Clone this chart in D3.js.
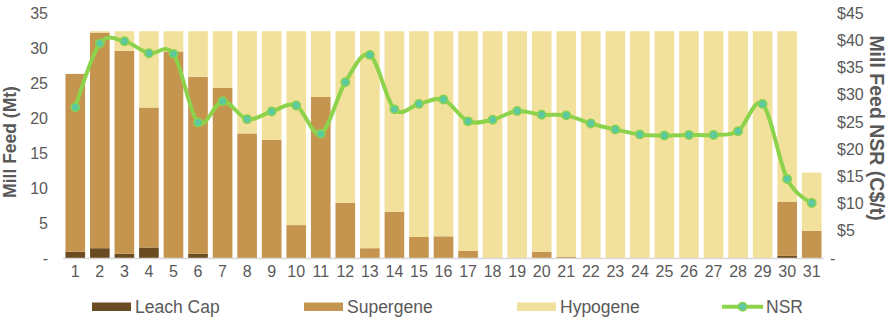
<!DOCTYPE html>
<html>
<head>
<meta charset="utf-8">
<script src="https://cdn.jsdelivr.net/npm/d3@7"></script>
<style>
  html, body { margin: 0; padding: 0; background: #fff; }
  svg { display: block; font-family: "Liberation Sans", Arial, sans-serif; }
</style>
</head>
<body>
<svg id="chart" width="889" height="320"></svg>
<script>
// Mill feed by period (Mt), split by ore type, with NSR on the secondary axis
const periods = d3.range(1, 32).map(String);
const leachCap = [0.9, 1.4, 0.6, 1.5, 0, 0.6, 0, 0, 0, 0, 0, 0, 0, 0, 0, 0, 0, 0, 0, 0, 0, 0, 0, 0, 0, 0, 0, 0, 0, 0.3, 0];
const supergene = [25.4, 30.8, 29.0, 20.0, 29.5, 25.3, 24.3, 17.8, 16.9, 4.7, 23.0, 7.9, 1.4, 6.6, 3.0, 3.1, 1.0, 0, 0, 0.9, 0.2, 0, 0, 0, 0, 0, 0, 0, 0, 7.7, 3.9];
const hypogene = [0, 0.2, 2.8, 10.9, 2.9, 6.5, 8.1, 14.6, 15.5, 27.7, 9.4, 24.5, 31.0, 25.8, 29.4, 29.3, 31.4, 32.4, 32.4, 31.5, 32.2, 32.4, 32.4, 32.4, 32.4, 32.4, 32.4, 32.4, 32.4, 24.4, 8.3];
const nsr = [27.7, 39.4, 39.8, 37.6, 37.5, 24.9, 28.8, 25.5, 26.9, 28.0, 22.8, 32.3, 37.3, 27.3, 28.3, 29.1, 25.1, 25.4, 27.0, 26.3, 26.2, 24.7, 23.6, 22.7, 22.5, 22.6, 22.6, 23.3, 28.3, 14.5, 10.1];
const leftTicks = [0, 5, 10, 15, 20, 25, 30, 35];
const rightTicks = [0, 5, 10, 15, 20, 25, 30, 35, 40, 45];

const seriesKeys = ["Leach Cap", "Supergene", "Hypogene"];
const colors = { "Leach Cap": "#6b4b21", "Supergene": "#c5954f", "Hypogene": "#f2e19c" };
const lineColor = "#8cd24b";
const markerFill = "#5cc99f";
const textColor = "#595959";

const rows = periods.map((p, i) => ({
  period: p,
  "Leach Cap": leachCap[i],
  "Supergene": supergene[i],
  "Hypogene": hypogene[i]
}));

const svg = d3.select("#chart");

const x = d3.scaleBand().domain(periods).range([63, 824]).paddingInner(0.2).paddingOuter(0.1);
const yL = d3.scaleLinear().domain([0, 35]).range([258, 13]);
const yR = d3.scaleLinear().domain([0, 45]).range([258, 13]);

// stacked bars
const stack = d3.stack().keys(seriesKeys)(rows);
svg.append("g").selectAll("g").data(stack).join("g")
  .attr("fill", d => colors[d.key])
  .selectAll("rect").data(d => d).join("rect")
  .attr("x", d => x(d.data.period))
  .attr("width", x.bandwidth())
  .attr("y", d => yL(d[1]))
  .attr("height", d => Math.max(0, yL(d[0]) - yL(d[1])));

// baseline
svg.append("line")
  .attr("x1", 63).attr("x2", 824)
  .attr("y1", yL(0) + 0.5).attr("y2", yL(0) + 0.5)
  .attr("stroke", "#d9d9d9").attr("stroke-width", 1.5);

// left axis
const leftAxis = d3.axisLeft(yL).tickValues(leftTicks)
  .tickFormat(v => v === 0 ? "-" : String(v)).tickSize(0).tickPadding(0);
const gL = svg.append("g").attr("transform", "translate(48,0)").call(leftAxis);
gL.select(".domain").remove();
gL.selectAll("text").attr("font-size", 16).attr("fill", textColor)
  .attr("font-family", "Liberation Sans, Arial, sans-serif");

// right axis
const rightAxis = d3.axisRight(yR).tickValues(rightTicks)
  .tickFormat(v => v === 0 ? "-" : "$" + v).tickSize(0).tickPadding(0);
const gR = svg.append("g").attr("transform", "translate(837,0)").call(rightAxis);
gR.select(".domain").remove();
gR.selectAll("text").attr("font-size", 16).attr("fill", textColor)
  .attr("font-family", "Liberation Sans, Arial, sans-serif")
  .attr("dx", v => v === 0 ? -7 : 0);

// x axis labels
const xAxis = d3.axisBottom(x).tickSize(0).tickPadding(0);
const gX = svg.append("g").attr("transform", "translate(0,266)").call(xAxis);
gX.select(".domain").remove();
gX.selectAll("text").attr("font-size", 16).attr("fill", textColor)
  .attr("font-family", "Liberation Sans, Arial, sans-serif");

// axis titles
svg.append("text")
  .attr("transform", "translate(16,142) rotate(-90)")
  .attr("text-anchor", "middle")
  .attr("font-size", 17.5).attr("font-weight", "bold").attr("fill", textColor)
  .text("Mill Feed (Mt)");
svg.append("text")
  .attr("transform", "translate(870,128) rotate(90)")
  .attr("text-anchor", "middle")
  .attr("font-size", 19.5).attr("font-weight", "bold").attr("fill", textColor)
  .text("Mill Feed NSR (C$/t)");

// NSR line
const cx = p => x(p) + x.bandwidth() / 2;
const line = d3.line()
  .x((d, i) => cx(periods[i]))
  .y(d => yR(d))
  .curve(d3.curveCardinal.tension(0));
svg.append("path").datum(nsr)
  .attr("d", line)
  .attr("fill", "none").attr("stroke", lineColor).attr("stroke-width", 4)
  .attr("stroke-linejoin", "round");
svg.append("g").selectAll("circle").data(nsr).join("circle")
  .attr("cx", (d, i) => cx(periods[i]))
  .attr("cy", d => yR(d))
  .attr("r", 4.2)
  .attr("fill", markerFill).attr("stroke", lineColor).attr("stroke-width", 1.5);

// legend
const legend = svg.append("g").attr("font-size", 17.5).attr("fill", textColor);
const legendItems = [
  { key: "Leach Cap", x: 92 },
  { key: "Supergene", x: 304 },
  { key: "Hypogene", x: 517 }
];
legendItems.forEach(it => {
  legend.append("rect").attr("x", it.x).attr("y", 302.5).attr("width", 39).attr("height", 8.5)
    .attr("fill", colors[it.key]);
  legend.append("text").attr("x", it.x + 43).attr("y", 313).text(it.key);
});
legend.append("line").attr("x1", 722).attr("x2", 763).attr("y1", 306.7).attr("y2", 306.7)
  .attr("stroke", lineColor).attr("stroke-width", 4);
legend.append("circle").attr("cx", 742.5).attr("cy", 306.7).attr("r", 4.2)
  .attr("fill", markerFill).attr("stroke", lineColor).attr("stroke-width", 1.5);
legend.append("text").attr("x", 766).attr("y", 313).text("NSR");
</script>
</body>
</html>
